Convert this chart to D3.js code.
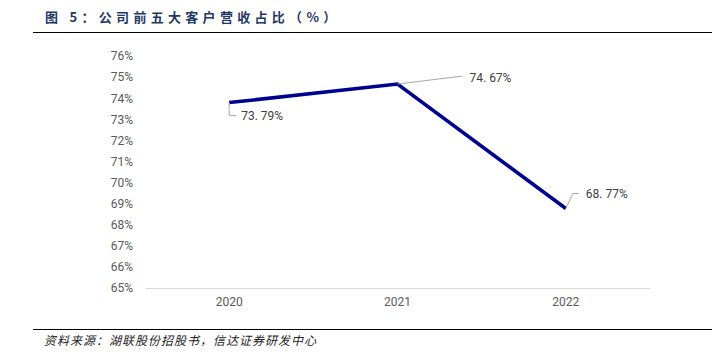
<!DOCTYPE html>
<html>
<head>
<meta charset="utf-8">
<script src="https://cdn.jsdelivr.net/npm/d3@7"></script>
<style>
  body { margin: 0; background: #fff; }
  text { font-family: "Noto Sans CJK SC", "Noto Sans", sans-serif; }
</style>
</head>
<body>
<script>
// data
var years = ["2020", "2021", "2022"];
var shares = [73.79, 74.67, 68.77];
var yTicks = [65, 66, 67, 68, 69, 70, 71, 72, 73, 74, 75, 76];
var title = "图 5：公司前五大客户营收占比（%）";
var source = "资料来源：湖联股份招股书，信达证券研发中心";

var W = 721, H = 359;
var margin = {top: 56, right: 71, bottom: 71, left: 145};

var svg = d3.select("body").append("svg")
    .attr("width", W)
    .attr("height", H);

// title + rules
svg.append("text")
    .attr("x", 45)
    .attr("y", 22)
    .attr("fill", "#1f3864")
    .style("font-size", "13px")
    .style("font-weight", "bold")
    .style("letter-spacing", "4.3px")
    .text(title);

svg.append("line")
    .attr("x1", 33).attr("x2", 712)
    .attr("y1", 32.5).attr("y2", 32.5)
    .attr("stroke", "#000").attr("stroke-width", 1.2);

svg.append("line")
    .attr("x1", 33).attr("x2", 712)
    .attr("y1", 329.5).attr("y2", 329.5)
    .attr("stroke", "#000").attr("stroke-width", 1.2);

svg.append("text")
    .attr("x", 44)
    .attr("y", 345)
    .attr("fill", "#222")
    .style("font-size", "12px")
    .style("font-style", "italic")
    .style("letter-spacing", "1px")
    .text(source);

var g = svg.append("g")
    .attr("transform", "translate(" + margin.left + "," + margin.top + ")");

var width = W - margin.left - margin.right,
    height = 288 - margin.top;

var x = d3.scaleBand().domain(years).range([0, width]);
var y = d3.scaleLinear().domain([65, 76]).range([height, 0]);

// y axis (labels only)
var yAxis = g.append("g")
    .call(d3.axisLeft(y).tickValues(yTicks).tickSize(0).tickPadding(12)
        .tickFormat(function(d) { return d + "%"; }));
yAxis.select(".domain").remove();
yAxis.selectAll("text")
    .attr("fill", "#595959")
    .style("font-size", "12px")
    .style("font-family", "Roboto, sans-serif");

// x axis
var xAxis = g.append("g")
    .attr("transform", "translate(0," + height + ")")
    .call(d3.axisBottom(x).tickSize(0).tickPadding(9));
xAxis.select(".domain").attr("stroke", "#d9d9d9").attr("stroke-width", 1.2);
xAxis.selectAll("text")
    .attr("fill", "#595959")
    .style("font-size", "12px")
    .style("font-family", "Roboto, sans-serif");

var cx = function(d, i) { return x(years[i]) + x.bandwidth() / 2; };

var line = d3.line()
    .x(function(d, i) { return cx(d, i); })
    .y(function(d) { return y(d); });

g.append("path")
    .datum(shares)
    .attr("fill", "none")
    .attr("stroke", "#000090")
    .attr("stroke-width", 3.5)
    .attr("d", line);

// data labels with leader lines (offsets relative to point)
var labelOff = [{dx: 12, dy: 13, leader: [[0, 0], [0, 13], [7, 13]]},
                {dx: 72, dy: -6, leader: [[0, 0], [65, -8]]},
                {dx: 20, dy: -15, leader: [[0, 0], [7, -15], [13, -15]]}];

shares.forEach(function(v, i) {
    var px = cx(v, i), py = y(v), o = labelOff[i];
    g.append("path")
        .attr("fill", "none")
        .attr("stroke", "#a6a6a6")
        .attr("stroke-width", 1)
        .attr("d", d3.line()(o.leader.map(function(p) { return [px + p[0], py + p[1]]; })));
    g.append("text")
        .attr("x", px + o.dx)
        .attr("y", py + o.dy)
        .attr("dy", "0.35em")
        .attr("fill", "#404040")
        .style("font-size", "12px")
        .style("font-family", "Roboto, sans-serif")
        .text(d3.format(".2f")(v).replace(".", ". ") + "%");
});
</script>
</body>
</html>
